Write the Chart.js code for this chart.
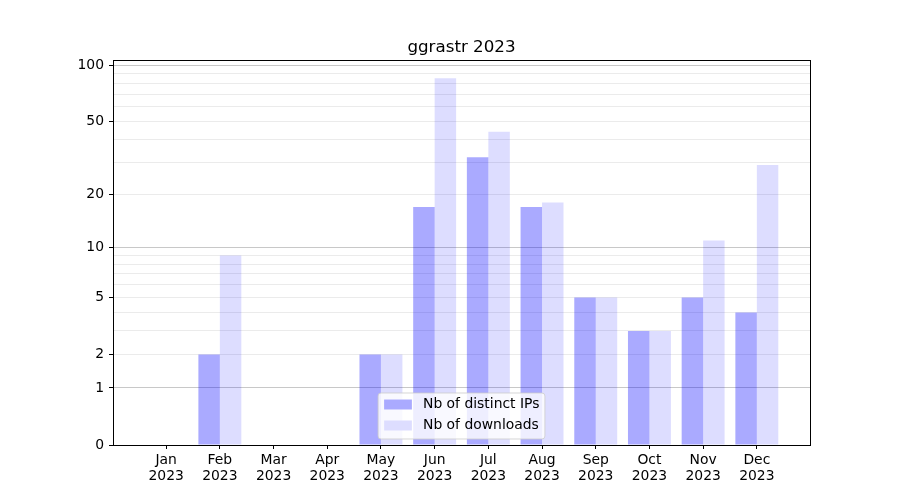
<!DOCTYPE html>
<html>
<head>
<meta charset="utf-8">
<script src="https://cdn.jsdelivr.net/npm/chart.js@4"></script>
<style>
  body { margin: 0; background: #fff; }
  canvas { display: block; }
</style>
</head>
<body>
<canvas id="chart" width="900" height="500"></canvas>
<script>
const months = ['Jan', 'Feb', 'Mar', 'Apr', 'May', 'Jun', 'Jul', 'Aug', 'Sep', 'Oct', 'Nov', 'Dec'];
const year = '2023';
const title = 'ggrastr 2023';
const ips = [0, 2, 0, 0, 2, 17, 32, 17, 5, 3, 5, 4];
const downloads = [0, 9, 0, 0, 2, 85, 44, 18, 5, 3, 11, 29];
const yTickValues = [0, 1, 2, 3, 4, 5, 6, 7, 8, 9, 10, 20, 30, 40, 50, 60, 70, 80, 90, 100];
const yTickLabels = [0, 1, 2, 5, 10, 20, 50, 100];
const yMajor = [1, 10, 100];

// the y axis is log10(1 + x)
const tr = (v) => Math.log10(1 + v);
const untr = (v) => Math.round(Math.pow(10, v) - 1);

let ipPoints = [];
let dlPoints = [];
for (let i = 0; i < months.length; i++) {
  ipPoints.push({x: i, y: tr(ips[i])});
  dlPoints.push({x: i, y: tr(downloads[i])});
}

const yMax = tr(Math.max(...ips, ...downloads)) * 1.05;
const font = 'DejaVu Sans';

const frame = {
  id: 'frame',
  afterDraw(chart) {
    const c = chart.ctx;
    const a = chart.chartArea;
    c.save();
    c.strokeStyle = '#000';
    c.lineWidth = 1;
    c.strokeRect(Math.round(a.left) + 0.5, Math.round(a.top) + 0.5, Math.round(a.right - a.left), Math.round(a.bottom - a.top));

    // title centred over the axes
    c.fillStyle = '#000';
    c.font = '16.7px "' + font + '"';
    c.textAlign = 'center';
    c.textBaseline = 'alphabetic';
    c.fillText(title, (a.left + a.right) / 2, a.top - 8);

    // legend, lower center inside the axes
    c.font = '13.9px "' + font + '"';
    const items = chart.data.datasets;
    let textW = 0;
    items.forEach(d => { textW = Math.max(textW, c.measureText(d.label).width); });
    const w = 6 + 27.8 + 11.1 + textW + 5.5;
    const h = 46;
    const x0 = (a.left + a.right) / 2 - w / 2;
    const y0 = a.bottom - 6 - h;
    const r = 3;
    c.beginPath();
    c.moveTo(x0 + r, y0);
    c.lineTo(x0 + w - r, y0);
    c.arcTo(x0 + w, y0, x0 + w, y0 + r, r);
    c.lineTo(x0 + w, y0 + h - r);
    c.arcTo(x0 + w, y0 + h, x0 + w - r, y0 + h, r);
    c.lineTo(x0 + r, y0 + h);
    c.arcTo(x0, y0 + h, x0, y0 + h - r, r);
    c.lineTo(x0, y0 + r);
    c.arcTo(x0, y0, x0 + r, y0, r);
    c.closePath();
    c.fillStyle = 'rgba(255,255,255,0.8)';
    c.fill();
    c.strokeStyle = 'rgba(204,204,204,0.8)';
    c.stroke();
    c.textBaseline = 'middle';
    c.textAlign = 'left';
    items.forEach((d, i) => {
      const cy = y0 + 11.5 + i * 21;
      c.fillStyle = '#fff';
      c.fillRect(x0 + 6, cy - 5, 27.8, 10);
      c.fillStyle = d.backgroundColor;
      c.fillRect(x0 + 6, cy - 5, 27.8, 10);
      c.fillStyle = '#000';
      c.fillText(d.label, x0 + 6 + 27.8 + 11.1, cy);
    });
    c.restore();
  }
};

const ctx = document.getElementById('chart').getContext('2d');

const chart = new Chart(ctx, {
  type: 'bar',
  data: {
    datasets: [{
      label: 'Nb of distinct IPs',
      backgroundColor: 'rgba(0, 0, 255, 0.333)',
      borderWidth: 0,
      data: ipPoints
    },
    {
      label: 'Nb of downloads',
      backgroundColor: 'rgba(0, 0, 255, 0.133)',
      borderWidth: 0,
      data: dlPoints
    }]
  },
  options: {
    responsive: false,
    animation: false,
    categoryPercentage: 0.8,
    barPercentage: 1.0,
    layout: {
      padding: {left: 0, right: 90, top: 60, bottom: 0}
    },
    plugins: {
      legend: { display: false },
      tooltip: { enabled: false },
      title: { display: false }
    },
    scales: {
      x: {
        type: 'linear',
        offset: false,
        min: -0.99,
        max: 11.99,
        afterBuildTicks: (scale) => {
          scale.ticks = months.map((m, i) => ({value: i}));
        },
        afterFit: (scale) => { scale.height = 55; },
        grid: {
          offset: false,
          drawOnChartArea: false,
          drawTicks: true,
          tickLength: 4,
          tickColor: '#000'
        },
        border: { color: '#000', width: 1 },
        ticks: {
          autoSkip: false,
          maxRotation: 0,
          padding: 3,
          color: '#000',
          font: { family: font, size: 13.9, lineHeight: 1.15 },
          callback: (v) => [months[v], year]
        }
      },
      y: {
        type: 'linear',
        min: 0,
        max: yMax,
        afterBuildTicks: (scale) => {
          scale.ticks = yTickValues.map(v => ({value: tr(v)}));
        },
        afterFit: (scale) => { scale.width = 113; },
        grid: {
          drawTicks: true,
          tickLength: 4,
          lineWidth: 1,
          color: (c) => {
            const v = untr(c.tick.value);
            if (v === 0) return 'rgba(0,0,0,0)';
            return yMajor.includes(v) ? '#c8c8c8' : '#ebebeb';
          },
          tickColor: (c) => yTickLabels.includes(untr(c.tick.value)) ? '#000' : 'rgba(0,0,0,0)'
        },
        border: { color: '#000', width: 1 },
        ticks: {
          autoSkip: false,
          padding: 5,
          color: '#000',
          font: { family: font, size: 13.9 },
          callback: (v) => {
            const n = untr(v);
            return yTickLabels.includes(n) ? String(n) : '';
          }
        }
      }
    }
  },
  plugins: [frame]
});
</script>
</body>
</html>
